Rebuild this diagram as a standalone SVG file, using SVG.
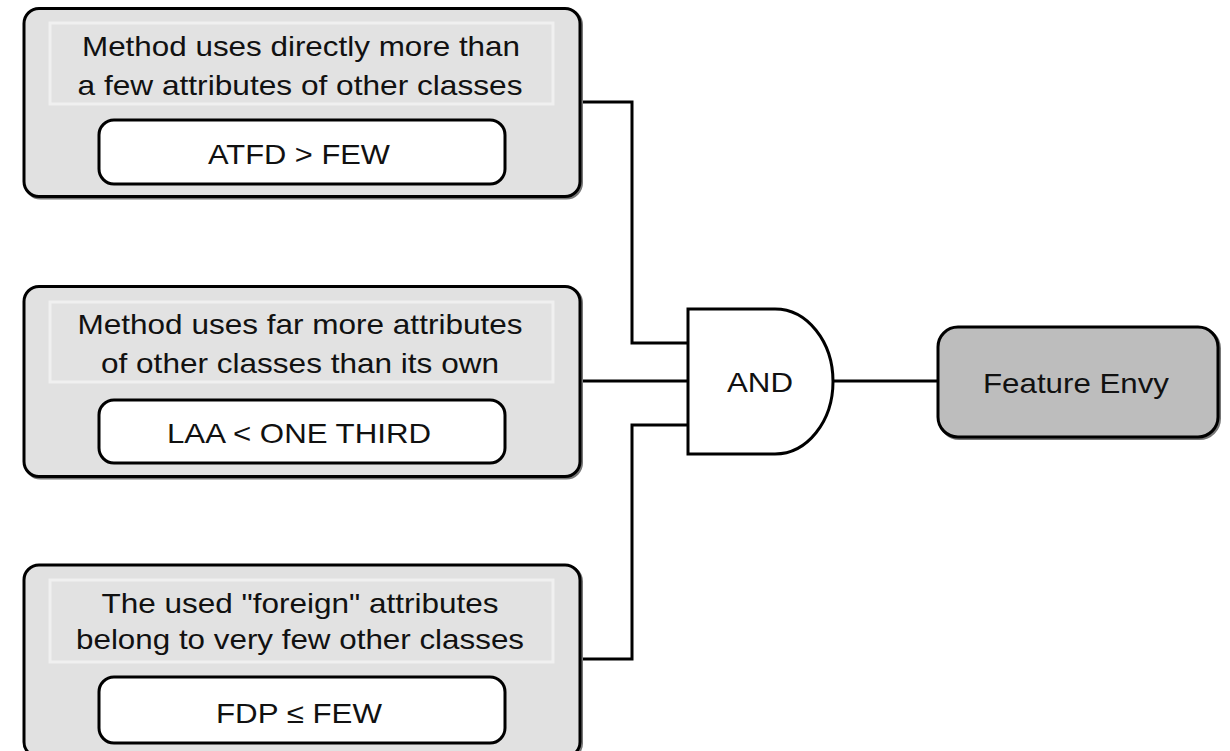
<svg xmlns="http://www.w3.org/2000/svg" width="1230" height="751" viewBox="0 0 1230 751">
<style>
.outer{fill:#e1e1e1;stroke:#000;stroke-width:3}
.shadow{fill:none;stroke:#777;stroke-width:3}
.panel{fill:#e2e2e2;stroke:#f0f0f0;stroke-width:3}
.metric{fill:#fff;stroke:#000;stroke-width:3}
.t{font-family:"Liberation Sans",Arial,sans-serif;font-size:28px;fill:#111;text-anchor:middle}
.wire{fill:none;stroke:#000;stroke-width:3}
.gate{fill:#fff;stroke:#000;stroke-width:3}
.result{fill:#bdbdbd;stroke:#000;stroke-width:3}
</style>
<rect width="1230" height="751" fill="#fff"/>
<g id="connectors">
<polyline class="wire" points="580,102 632,102 632,343 688,343"/>
<line class="wire" x1="580" y1="381" x2="688" y2="381"/>
<polyline class="wire" points="580,659 632,659 632,425 688,425"/>
<line class="wire" x1="833" y1="381" x2="938" y2="381"/>
</g>
<g id="node-atfd">
<rect class="shadow" x="25.5" y="10" width="556" height="188" rx="15"/>
<rect class="outer" x="24" y="8.5" width="556" height="188" rx="15"/>
<rect class="panel" x="50" y="23" width="503" height="81"/>
<text class="t" x="301" y="56" textLength="438" lengthAdjust="spacingAndGlyphs">Method uses directly more than</text>
<text class="t" x="300" y="95" textLength="445" lengthAdjust="spacingAndGlyphs">a few attributes of other classes</text>
<rect class="metric" x="99" y="120" width="406" height="64" rx="15"/>
<text class="t" x="299" y="164" textLength="182" lengthAdjust="spacingAndGlyphs">ATFD &gt; FEW</text>
</g>
<g id="node-laa">
<rect class="shadow" x="25.5" y="288" width="556" height="190" rx="15"/>
<rect class="outer" x="24" y="286.5" width="556" height="190" rx="15"/>
<rect class="panel" x="50" y="302" width="503" height="80"/>
<text class="t" x="300" y="334" textLength="445" lengthAdjust="spacingAndGlyphs">Method uses far more attributes</text>
<text class="t" x="300" y="373" textLength="398" lengthAdjust="spacingAndGlyphs">of other classes than its own</text>
<rect class="metric" x="99" y="400" width="406" height="63" rx="15"/>
<text class="t" x="299" y="443" textLength="264" lengthAdjust="spacingAndGlyphs">LAA &lt; ONE THIRD</text>
</g>
<g id="node-fdp">
<rect class="shadow" x="25.5" y="566.5" width="556" height="192" rx="15"/>
<rect class="outer" x="24" y="565" width="556" height="192" rx="15"/>
<rect class="panel" x="50" y="580" width="503" height="82"/>
<text class="t" x="300" y="613" textLength="397" lengthAdjust="spacingAndGlyphs">The used "foreign" attributes</text>
<text class="t" x="300" y="649" textLength="448" lengthAdjust="spacingAndGlyphs">belong to very few other classes</text>
<rect class="metric" x="99" y="677" width="406" height="66" rx="15"/>
<text class="t" x="299" y="723" textLength="166" lengthAdjust="spacingAndGlyphs">FDP ≤ FEW</text>
</g>
<g id="node-and">
<path class="gate" d="M688,309 H775 A58,72.5 0 0 1 775,454 H688 Z"/>
<text class="t" x="760" y="392" textLength="66" lengthAdjust="spacingAndGlyphs">AND</text>
</g>
<g id="node-feature-envy">
<rect class="shadow" x="939.5" y="328.5" width="280" height="110" rx="20"/>
<rect class="result" x="938" y="327" width="280" height="110" rx="20"/>
<text class="t" x="1076" y="393" textLength="186" lengthAdjust="spacingAndGlyphs">Feature Envy</text>
</g>
</svg>
